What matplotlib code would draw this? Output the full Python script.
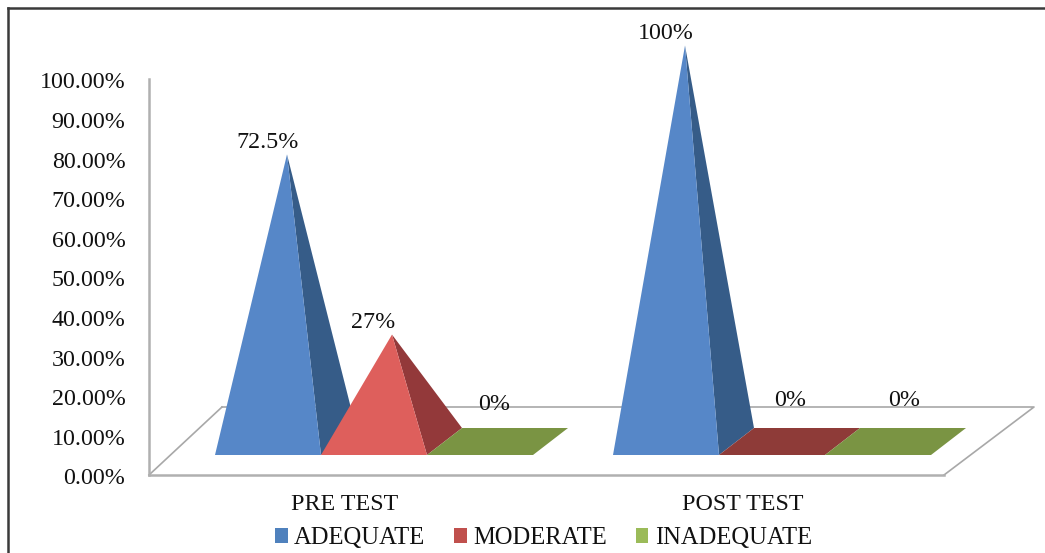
import matplotlib
matplotlib.use("Agg")
import matplotlib.pyplot as plt
from matplotlib.patches import Polygon, Patch
from matplotlib.transforms import ScaledTranslation

W, H = 1045, 553
groups = ["PRE TEST", "POST TEST"]
series = ["ADEQUATE", "MODERATE", "INADEQUATE"]
adequate = [72.5, 100]
moderate = [27, 0]
inadequate = [0, 0]
point_labels = [["72.5%", "100%"], ["27%", "0%"], ["0%", "0%"]]
y_ticks = [0, 10, 20, 30, 40, 50, 60, 70, 80, 90, 100]
y_tick_labels = ["0.00%", "10.00%", "20.00%", "30.00%", "40.00%", "50.00%",
                 "60.00%", "70.00%", "80.00%", "90.00%", "100.00%"]

front = ["#5687C8", "#DE5F5C", "#7A9443"]
side = ["#365C88", "#93393A", "#7A9443"]
flat = ["#5687C8", "#8E3B38", "#7A9443"]
legend_cols = ["#4F81BD", "#C0504D", "#9BBB59"]

plt.rcParams["font.family"] = ["Liberation Serif", "DejaVu Serif"]
FS = 17.3

fig = plt.figure(figsize=(W / 100, H / 100), dpi=100, facecolor="white")
L, R, T, B = 149, 944, 79, 475
ax = fig.add_axes([L / W, (H - B) / H, (R - L) / W, (B - T) / H])
ax.set_xlim(L, R)
ax.set_ylim(0, 100)
PY = (B - T) / 100  # pixels per percent

for s in ["top", "right"]:
    ax.spines[s].set_visible(False)
for s in ["left", "bottom"]:
    ax.spines[s].set_color("#B0B0B0")
    ax.spines[s].set_linewidth(1.8)
ax.set_yticks(y_ticks, y_tick_labels, fontsize=FS, color="#111111")
ax.tick_params(axis="y", length=0, pad=17)
ax.set_xticks([345, 743], groups, fontsize=FS, color="#111111")
ax.tick_params(axis="x", length=0, pad=14)
shift = ScaledTranslation(0, -1.5 / 100, fig.dpi_scale_trans)
for t in ax.get_yticklabels():
    t.set_transform(t.get_transform() + shift)

# floor of the 3D plot, in percent units vertically
ax.plot([L, 222], [0, (B - 407) / PY], color="#A8A8A8", lw=1.2, clip_on=False, zorder=1)
ax.plot([222, 1034, R], [(B - 407) / PY, (B - 407) / PY, 0],
        color="#A8A8A8", lw=1.2, clip_on=False, zorder=1)

y_front = (B - 455) / PY
y_back = (B - 428) / PY
y_mid = (y_front + y_back) / 2
W_BAR, DX = 106, 35
starts = [215, 613]
vals = [adequate, moderate, inadequate]
# horizontal offsets of the zero labels from the left edge of their base
zero_dx = {(0, 2): 67, (1, 1): 71, (1, 2): 79}
zero_py = {(0, 2): 404, (1, 1): 400, (1, 2): 401}

for g, x0 in enumerate(starts):
    for i in range(3):
        v = vals[i][g]
        a = x0 + i * W_BAR
        b = a + W_BAR
        z = 3 + i
        if v == 0:
            ax.add_patch(Polygon([(a, y_front), (b, y_front), (b + DX, y_back), (a + DX, y_back)],
                                 fc=flat[i], ec="none", clip_on=False, zorder=z))
            lx = a + zero_dx[(g, i)]
            ly = (B - zero_py[(g, i)]) / PY
        else:
            ax_x = a + 72 - (1 if i else 0)
            top = y_mid + v
            ax.add_patch(Polygon([(b, y_front), (b + DX, y_back), (ax_x, top)],
                                 fc=side[i], ec="none", clip_on=False, zorder=z))
            ax.add_patch(Polygon([(a, y_front), (b, y_front), (ax_x, top)],
                                 fc=front[i], ec="none", clip_on=False, zorder=z + 0.1))
            lx = ax_x - 19
            ly = top + 12 / PY
        ax.text(lx, ly, point_labels[i][g], fontsize=FS, ha="center", va="center",
                color="#111111", clip_on=False, zorder=8)

handles = [Patch(fc=c, ec="none") for c in legend_cols]
fig.legend(handles, series, loc="center", bbox_to_anchor=(543.5 / W, (H - 538) / H), ncol=3,
           frameon=False, fontsize=17.7, handlelength=0.5, handleheight=0.55,
           handletextpad=0.25, columnspacing=1.2, labelcolor="#111111", borderpad=0)

# outer frame: only the top and left edges are inside the picture
fig.add_artist(plt.Line2D([8 / W, 8 / W], [0, (H - 8) / H], color="#3A3A3A", lw=1.8))
fig.add_artist(plt.Line2D([8 / W, 1], [(H - 8) / H, (H - 8) / H], color="#3A3A3A", lw=1.8))

fig.savefig("out.png", dpi=100, facecolor="white")
